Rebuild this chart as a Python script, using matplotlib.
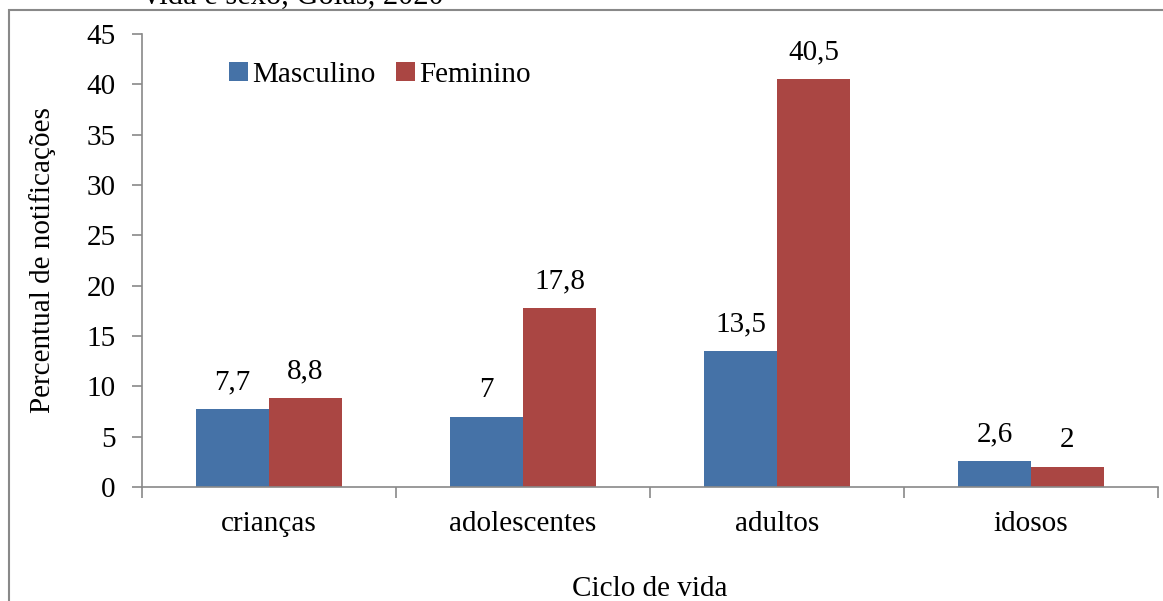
import matplotlib.pyplot as plt
import numpy as np
from matplotlib.patches import Rectangle

# percentual de notificações por ciclo de vida e sexo
ciclos = ["crianças", "adolescentes", "adultos", "idosos"]
masculino = [7.7, 7.0, 13.5, 2.6]
feminino = [8.8, 17.8, 40.5, 2.0]
yticks = [0, 5, 10, 15, 20, 25, 30, 35, 40, 45]

azul = "#4572a7"
vermelho = "#aa4643"
cinza = "#898989"

plt.rcParams["font.family"] = ["Liberation Serif", "DejaVu Serif"]
plt.rcParams["font.size"] = 21

fig = plt.figure(figsize=(11.63, 6.01), dpi=100)

# moldura do gráfico (cortada à direita e embaixo)
fig.patches.append(Rectangle((9 / 1163, -0.1), 1.2, 1 - 10 / 601 + 0.1,
                             transform=fig.transFigure, fill=False,
                             edgecolor=cinza, linewidth=1.5))
fig.text(144 / 1163, 1 - 4 / 601, "vida e sexo, Goiás, 2020",
         ha="left", va="baseline", fontsize=22)

ax = fig.add_axes([142 / 1163, 114 / 601, 1016 / 1163, 453 / 601])

x = np.arange(len(ciclos))
w = 0.287
b1 = ax.bar(x - w / 2, masculino, w, color=azul, label="Masculino")
b2 = ax.bar(x + w / 2, feminino, w, color=vermelho, label="Feminino")

def rotulo(v):
    return ("%g" % v).replace(".", ",")

for barras, vals in ((b1, masculino), (b2, feminino)):
    for r, v in zip(barras, vals):
        ax.annotate(rotulo(v), (r.get_x() + r.get_width() / 2, v),
                    xytext=(0, 10), textcoords="offset points",
                    ha="center", va="bottom")

ax.set_xlim(-0.5, len(ciclos) - 0.5)
ax.set_ylim(0, 45)
ax.set_yticks(yticks)
ax.set_xticks(x)
ax.set_xticklabels(ciclos)
ax.set_xticks(np.arange(len(ciclos) + 1) - 0.5, minor=True)
ax.tick_params(axis="x", which="major", length=0, pad=17)
ax.tick_params(axis="x", which="minor", length=8, width=1.2, color=cinza)
ax.tick_params(axis="y", length=7, width=1.2, color=cinza, pad=12)

for s in ("top", "right"):
    ax.spines[s].set_visible(False)
for s in ("left", "bottom"):
    ax.spines[s].set_color(cinza)
    ax.spines[s].set_linewidth(1.2)

ax.set_ylabel("Percentual de notificações", labelpad=22)
ax.set_xlabel("Ciclo de vida", labelpad=28)

ax.legend(loc="upper left", bbox_to_anchor=(0.074, 0.965), ncol=2, frameon=False,
          handlelength=0.65, handleheight=0.65, handletextpad=0.15,
          columnspacing=0.7, borderaxespad=0)

fig.savefig("out.png", dpi=100)
